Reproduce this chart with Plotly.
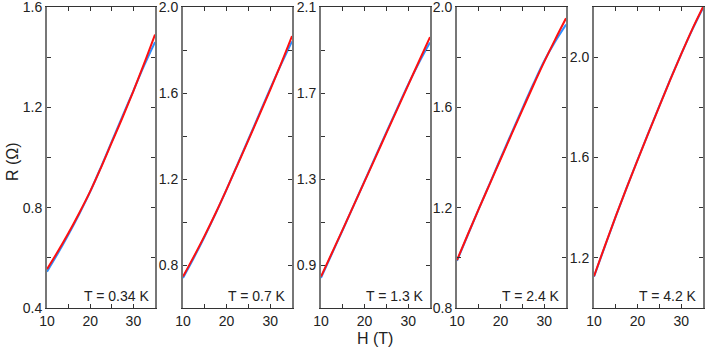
import plotly.graph_objects as go
from plotly.subplots import make_subplots

# magnetic field grid (T)
H = [10, 12.5, 15, 17.5, 20, 22.5, 25, 27.5, 30, 32.5, 35]

temperatures = ["T = 0.34 K", "T = 0.7 K", "T = 1.3 K", "T = 2.4 K", "T = 4.2 K"]

# resistance (Ohm), blue and red curves per temperature
blue_034 = [0.545, 0.617, 0.694, 0.776, 0.864, 0.962, 1.064, 1.166, 1.266, 1.367, 1.46]
red_034 = [0.555, 0.625, 0.70, 0.78, 0.865, 0.96, 1.06, 1.16, 1.265, 1.375, 1.49]
blue_07 = [0.74, 0.834, 0.934, 1.04, 1.152, 1.268, 1.385, 1.503, 1.62, 1.733, 1.84]
red_07 = [0.746, 0.84, 0.938, 1.042, 1.152, 1.266, 1.381, 1.497, 1.615, 1.737, 1.865]
blue_13 = [0.84, 0.952, 1.064, 1.177, 1.291, 1.405, 1.518, 1.63, 1.74, 1.842, 1.935]
red_13 = [0.846, 0.956, 1.066, 1.177, 1.289, 1.401, 1.513, 1.625, 1.737, 1.849, 1.96]
blue_24 = [0.988, 1.092, 1.195, 1.296, 1.397, 1.497, 1.596, 1.693, 1.785, 1.862, 1.93]
red_24 = [0.991, 1.094, 1.195, 1.294, 1.393, 1.492, 1.59, 1.687, 1.781, 1.87, 1.955]
blue_42 = [1.125, 1.246, 1.365, 1.48, 1.591, 1.699, 1.806, 1.911, 2.012, 2.108, 2.196]
red_42 = [1.127, 1.248, 1.366, 1.48, 1.59, 1.698, 1.805, 1.91, 2.012, 2.11, 2.2]

blue_curves = [blue_034, blue_07, blue_13, blue_24, blue_42]
red_curves = [red_034, red_07, red_13, red_24, red_42]

y_ranges = [[0.4, 1.6], [0.6, 2.0], [0.7, 2.1], [0.8, 2.0], [1.0, 2.2]]
y_ticks = [
    [0.4, 0.8, 1.2, 1.6],
    [0.8, 1.2, 1.6, 2.0],
    [0.9, 1.3, 1.7, 2.1],
    [0.8, 1.2, 1.6, 2.0],
    [1.2, 1.6, 2.0],
]

W, HGT = 706, 349
lefts = [47, 183, 321, 457, 594]
rights = [155, 292, 430, 566, 703]
top, bottom = 7, 308

BLUE = "#2f8fff"
RED = "#ff1010"
FONT = "Liberation Sans, Arial, sans-serif"
EPS = 1e-6

fig = make_subplots(rows=1, cols=5)

for i in range(5):
    fig.add_trace(
        go.Scatter(x=H, y=blue_curves[i], mode="lines", line=dict(color=BLUE, width=2),
                   line_shape="spline", showlegend=False),
        row=1, col=i + 1,
    )
    fig.add_trace(
        go.Scatter(x=H, y=red_curves[i], mode="lines", line=dict(color=RED, width=2),
                   line_shape="spline", showlegend=False),
        row=1, col=i + 1,
    )
    fig.update_xaxes(
        domain=[lefts[i] / W, rights[i] / W],
        range=[10, 35], tickvals=[10, 20, 30],
        ticks="inside", ticklen=4, tickcolor="#333", tickwidth=1,
        minor=dict(dtick=5, tick0=0, ticks="inside", ticklen=4, tickcolor="#333"),
        showline=True, linecolor="#333", linewidth=1, mirror="ticks",
        showgrid=False, zeroline=False, automargin=False,
        ticklabeloverflow="allow",
        tickfont=dict(family=FONT, size=14, color="#222"),
        row=1, col=i + 1,
    )
    fig.update_yaxes(
        domain=[1 - bottom / HGT, 1 - top / HGT],
        range=[y_ranges[i][0] - EPS, y_ranges[i][1] + EPS],
        tickvals=y_ticks[i], tickformat=".1f",
        ticks="inside", ticklen=4, tickcolor="#333", tickwidth=1,
        minor=dict(dtick=0.2, tick0=y_ticks[i][0], ticks="inside", ticklen=4, tickcolor="#333"),
        showline=True, linecolor="#777", linewidth=2, mirror="ticks",
        showgrid=False, zeroline=False, automargin=False,
        ticklabeloverflow="allow",
        tickfont=dict(family=FONT, size=14, color="#222"),
        row=1, col=i + 1,
    )
    fig.add_annotation(
        x=(rights[i] - 4) / W, y=1 - 296 / HGT, xref="paper", yref="paper",
        text=temperatures[i], showarrow=False, xanchor="right", yanchor="middle",
        font=dict(family=FONT, size=14, color="#222"),
    )

fig.add_annotation(
    x=12 / W, y=1 - 162 / HGT, xref="paper", yref="paper", text="R (Ω)",
    textangle=-90, showarrow=False, xanchor="center", yanchor="middle",
    font=dict(family=FONT, size=16, color="#222"),
)
fig.add_annotation(
    x=375 / W, y=1 - 338 / HGT, xref="paper", yref="paper", text="H (T)",
    showarrow=False, xanchor="center", yanchor="middle",
    font=dict(family=FONT, size=16, color="#222"),
)

fig.update_layout(
    width=W, height=HGT,
    margin=dict(l=0, r=0, t=0, b=0),
    paper_bgcolor="white", plot_bgcolor="white",
)

# the page's default body margin would shift the figure by 8px
fig.write_html(
    "out.html",
    config={"displayModeBar": False},
    post_script="document.body.style.margin='0';",
)
